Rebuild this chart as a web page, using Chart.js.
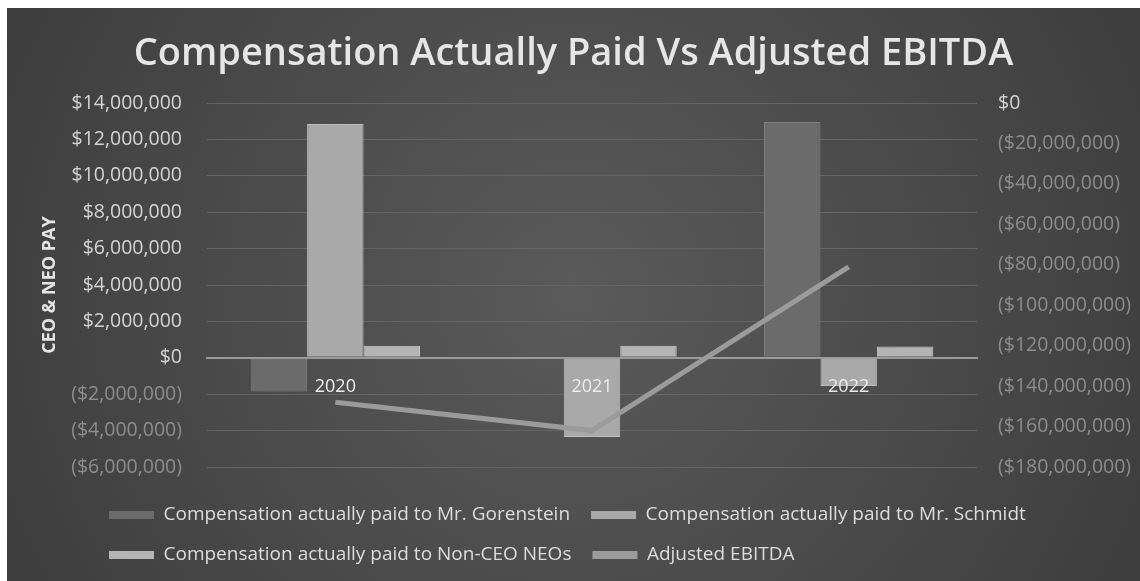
<!DOCTYPE html>
<html>
<head>
<meta charset="utf-8">
<script src="https://cdn.jsdelivr.net/npm/chart.js@4.4.1/dist/chart.umd.min.js"></script>
<style>
    html, body { margin: 0; padding: 0; background: #ffffff; }
    #wrap { position: absolute; left: 7px; top: 8px; width: 1133px; height: 573px; }
</style>
</head>
<body>
<div id="wrap"><canvas id="chart"></canvas></div>
<script>
"use strict";

// Data
const years = ['2020', '2021', '2022'];
const gorenstein = [-1850000, null, 12950000];
const schmidt = [12850000, -4350000, -1550000];
const nonCeo = [660000, 660000, 620000];
const ebitda = [-148000000, -162000000, -81000000];

// Axis ranges (tick labels come from these)
const payAxis = { min: -6000000, max: 14000000, step: 2000000 };
const ebitdaAxis = { min: -180000000, max: 0, step: 20000000 };

const FONT = 'Open Sans';

// $1,000 style, negatives in brackets
function money(v) {
    const s = '$' + Math.abs(v).toLocaleString('en-US');
    return v < 0 ? '(' + s + ')' : s;
}

// Dark vignette background
const background = {
    id: 'background',
    beforeDraw(chart) {
        const { ctx, width, height } = chart;
        const g = ctx.createRadialGradient(width / 2, height / 2, 0, width / 2, height / 2, width * 0.6);
        g.addColorStop(0, '#5a5a5a');
        g.addColorStop(1, '#3b3b3b');
        ctx.save();
        ctx.fillStyle = g;
        ctx.fillRect(0, 0, width, height);
        ctx.restore();
    }
};

// Legend rows start at the same left edge, like the original
const legendLeft = {
    id: 'legendLeft',
    afterLayout(chart) {
        chart.legend.left = 81;
    }
};

new Chart(document.getElementById('chart'), {
    data: {
        labels: years,
        datasets: [
            {
                type: 'bar',
                label: 'Compensation actually paid to Mr. Gorenstein',
                data: gorenstein,
                backgroundColor: '#6b6b6b',
                borderColor: '#808080',
                borderWidth: 1,
                yAxisID: 'y',
                order: 1
            },
            {
                type: 'bar',
                label: 'Compensation actually paid to Mr. Schmidt',
                data: schmidt,
                backgroundColor: '#a9a9a9',
                borderColor: '#bdbdbd',
                borderWidth: 1,
                yAxisID: 'y',
                order: 1
            },
            {
                type: 'bar',
                label: 'Compensation actually paid to Non-CEO NEOs',
                data: nonCeo,
                backgroundColor: '#b4b4b4',
                borderColor: '#c8c8c8',
                borderWidth: 1,
                yAxisID: 'y',
                order: 1
            },
            {
                type: 'line',
                label: 'Adjusted EBITDA',
                data: ebitda,
                borderColor: '#9b9b9b',
                backgroundColor: '#9b9b9b',
                borderWidth: 5,
                pointRadius: 0,
                tension: 0,
                yAxisID: 'y1',
                order: 0
            }
        ]
    },
    options: {
        responsive: true,
        maintainAspectRatio: false,
        animation: false,
        layout: { padding: { left: 0, right: 0, top: 0, bottom: 6.5 } },
        datasets: {
            bar: { barPercentage: 1, categoryPercentage: 0.66 }
        },
        scales: {
            x: {
                type: 'category',
                position: { y: 0 },
                grid: { display: false, drawTicks: false },
                border: { display: true, color: '#9a9a9a', width: 2 },
                ticks: {
                    z: 1,
                    color: '#ececec',
                    padding: 18,
                    font: { family: FONT, size: 18 }
                }
            },
            // empty strip that keeps the plot off the legend
            xpad: {
                type: 'category',
                position: 'bottom',
                grid: { display: false, drawTicks: false },
                border: { display: false },
                ticks: { display: false },
                afterFit(scale) { scale.height = 17.5; }
            },
            y: {
                position: 'left',
                min: payAxis.min,
                max: payAxis.max,
                afterFit(scale) { scale.width = 200; },
                grid: {
                    drawTicks: false,
                    color: ctx => ctx.tick.value === 0 ? '#9a9a9a' : '#646464',
                    lineWidth: ctx => ctx.tick.value === 0 ? 2 : 1
                },
                border: { display: false },
                ticks: {
                    stepSize: payAxis.step,
                    padding: 25,
                    callback: v => money(v),
                    color: ctx => ctx.tick.value < 0 ? '#8d8d8d' : '#d4d4d4',
                    font: { family: FONT, size: 19.5 }
                },
                title: {
                    display: true,
                    text: 'CEO & NEO PAY',
                    color: '#e4e4e4',
                    padding: { top: 32, bottom: 0 },
                    font: { family: FONT, size: 18, weight: 'bold' }
                }
            },
            y1: {
                position: 'right',
                min: ebitdaAxis.min,
                max: ebitdaAxis.max,
                afterFit(scale) { scale.width = 163; },
                grid: { display: false, drawTicks: false },
                border: { display: false },
                ticks: {
                    stepSize: ebitdaAxis.step,
                    padding: 21,
                    callback: v => money(v),
                    color: ctx => ctx.tick.value < 0 ? '#8d8d8d' : '#d4d4d4',
                    font: { family: FONT, size: 19.5 }
                }
            }
        },
        plugins: {
            title: {
                display: true,
                text: 'Compensation Actually Paid Vs Adjusted EBITDA',
                color: '#e6e6e6',
                padding: { top: 23, bottom: 26.4 },
                font: { family: FONT, size: 38, weight: '600' }
            },
            legend: {
                position: 'bottom',
                align: 'start',
                labels: {
                    color: '#dcdcdc',
                    boxWidth: 45,
                    boxHeight: 8,
                    padding: 21,
                    font: { family: FONT, size: 19 },
                    sort: (a, b) => a.datasetIndex - b.datasetIndex,
                    generateLabels(chart) {
                        return chart.data.datasets.map((ds, i) => ({
                            text: ds.label,
                            fillStyle: ds.backgroundColor,
                            strokeStyle: ds.backgroundColor,
                            lineWidth: 0,
                            fontColor: '#dcdcdc',
                            hidden: false,
                            datasetIndex: i
                        }));
                    }
                }
            },
            tooltip: { enabled: false }
        }
    },
    plugins: [background, legendLeft]
});
</script>
</body>
</html>
